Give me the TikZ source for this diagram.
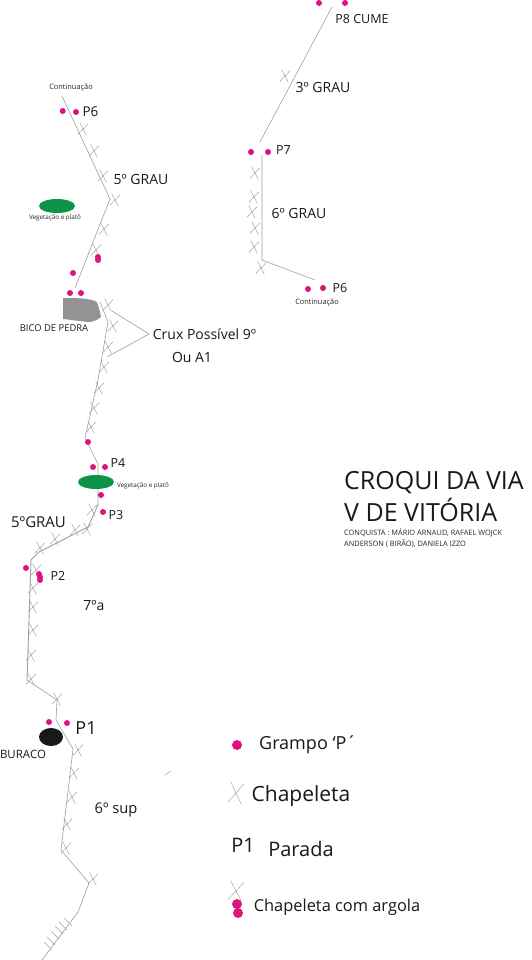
\documentclass[tikz,border=0pt]{standalone}
\usepackage{fontspec}
\setmainfont{Open Sans}
\usetikzlibrary{shapes.misc,shapes.geometric}
\definecolor{grampocolor}{HTML}{DC1480}
\definecolor{platocolor}{HTML}{0B9348}
\begin{document}
\begin{tikzpicture}[
        x=1pt,
        y=-1pt,
        route/.style={draw=gray!75, line width=0.6pt},
        grampo/.style={
            circle,
            fill=grampocolor,
            inner sep=0pt,
            minimum size=6pt
        },
        chapeleta/.style={
            cross out,
            draw=gray!75,
            line width=0.45pt,
            inner sep=0pt,
            minimum width=8pt,
            minimum height=11.5pt,
            rotate=-8
        },
        tick/.style={draw=gray!75, line width=0.5pt},
        plato/.style={ellipse, fill=platocolor, inner sep=0pt, minimum width=36pt, minimum height=14pt},
        label/.style={text=black!90, inner sep=0pt, font=\fontsize{14}{14}\selectfont},
        parada/.style={label, font=\fontsize{12.5}{12.5}\selectfont},
        small/.style={text=black!85, inner sep=0pt, font=\fontsize{6.3}{6.3}\selectfont},
        cont/.style={small, font=\fontsize{7.4}{7.4}\selectfont}
    ]
    \useasboundingbox (0,0) rectangle (531,960);
    \fill[white] (0,0) rectangle (531,960);

    % upper left pitch
    \draw[route] (62,96) -- (110,199) -- (75,288);
    \path[fill=gray!85] (63,298) .. controls (75,298) and (90,298) .. (97,302)
        .. controls (99,308) and (100,312) .. (101,317)
        .. controls (96,321) and (92,322) .. (88,322) -- (63,319) -- cycle;
    \draw[route] (100,302) -- (108,322) -- (98,380) -- (85,438) -- (98,464) -- (98,505);
    \draw[route, line width=0.9pt] (98,505) -- (88,527) -- (39,552) -- (31,560) -- (27,680);
    \draw[route] (27,680) -- (57,700) -- (56,720)
        -- (73,749) -- (61,850) -- (89,883) -- (78,912) -- (42,960);

    % right pitch
    \draw[route] (332,7) -- (260,142);
    \draw[route] (262,155) -- (262,260) -- (315,280);

    % crux bracket
    \node[label] (crux) at (204.5,334) {Crux Possível 9º};
    \node[label] (ou) at (192,357) {Ou A1};
    \coordinate (cruxa) at (112,311);
    \coordinate (cruxtip) at (149,334);
    \coordinate (cruxb) at (107,357);
    \draw[route] (cruxa) -- (cruxtip) -- (cruxb);

    % ticks on the last stretch
    \draw[tick] (68,922) +(-4,-4) -- +(4,4);
    \draw[tick] (63,926) +(-4,-4) -- +(4,4);
    \draw[tick] (59,930) +(-4,-4) -- +(4,4);
    \draw[tick] (55,935) +(-4,-4) -- +(4,4);
    \draw[tick] (51,941) +(-4,-4) -- +(4,4);
    \draw[tick] (48,946) +(-4,-4) -- +(4,4);
    \draw[tick] (165,775) -- (171,771);

    % chapeletas
    \node[chapeleta] (c1) at (83,129) {};
    \node[chapeleta] (c2) at (94,151) {};
    \node[chapeleta] (c3) at (103,176) {};
    \node[chapeleta] (c4) at (115,200) {};
    \node[chapeleta] (c5) at (104,229) {};
    \node[chapeleta] (c6) at (96,250) {};
    \node[chapeleta] (c7) at (108,305) {};
    \node[chapeleta] (c8) at (113,326) {};
    \node[chapeleta] (c9) at (108,347) {};
    \node[chapeleta] (c10) at (104,367) {};
    \node[chapeleta] (c11) at (99,388) {};
    \node[chapeleta] (c12) at (94,408) {};
    \node[chapeleta] (c13) at (91,427) {};
    \node[chapeleta] (c14) at (92,510) {};
    \node[chapeleta] (c15) at (87,529) {};
    \node[chapeleta] (c16) at (75,530) {};
    \node[chapeleta] (c17) at (55,539) {};
    \node[chapeleta] (c18) at (40,548) {};
    \node[chapeleta] (c19) at (36,570) {};
    \node[chapeleta] (c20) at (33,588) {};
    \node[chapeleta] (c21) at (33,607) {};
    \node[chapeleta] (c22) at (33,630) {};
    \node[chapeleta] (c23) at (31,655) {};
    \node[chapeleta] (c24) at (31,679) {};
    \node[chapeleta] (c25) at (57,699) {};
    \node[chapeleta] (c26) at (78,750) {};
    \node[chapeleta] (c27) at (74,773) {};
    \node[chapeleta] (c28) at (72,797) {};
    \node[chapeleta] (c29) at (67,824) {};
    \node[chapeleta] (c30) at (66,848) {};
    \node[chapeleta] (c31) at (93,879) {};
    \node[chapeleta] (c32) at (285,76) {};
    \node[chapeleta] (c33) at (255,173) {};
    \node[chapeleta] (c34) at (254,197) {};
    \node[chapeleta] (c35) at (252,212) {};
    \node[chapeleta] (c36) at (255,228) {};
    \node[chapeleta] (c37) at (254,247) {};
    \node[chapeleta] (c38) at (261,268) {};

    % grampos
    \node[grampo] (g1) at (62.7,111) {};
    \node[grampo] (g2) at (76,112) {};
    \node[grampo] (g3) at (98,257) {};
    \node[grampo] (g4) at (98,260) {};
    \node[grampo] (g5) at (73,273) {};
    \node[grampo] (g6) at (70,293) {};
    \node[grampo] (g7) at (81,293) {};
    \node[grampo] (g8) at (88,442) {};
    \node[grampo] (g9) at (93,467) {};
    \node[grampo] (g10) at (105,467) {};
    \node[grampo] (g11) at (101,495) {};
    \node[grampo] (g12) at (103,512) {};
    \node[grampo] (g13) at (26,568) {};
    \node[grampo] (g14) at (39,574) {};
    \node[grampo] (g15) at (40,577) {};
    \node[grampo] (g16) at (40,580) {};
    \node[grampo] (g17) at (49,722) {};
    \node[grampo] (g18) at (67,723) {};
    \node[grampo] (g19) at (319,3) {};
    \node[grampo] (g20) at (345,3) {};
    \node[grampo] (g21) at (251,152) {};
    \node[grampo] (g22) at (268,152) {};
    \node[grampo] (g23) at (308,289) {};
    \node[grampo] (g24) at (323,288) {};

    % platos and buraco
    \node[plato] (plato1) at (57,206) {};
    \node[plato] (plato2) at (96,482) {};
    \node[ellipse, fill=black!90, inner sep=0pt, minimum width=24pt, minimum height=18pt] (buraco) at (51,737) {};

    % labels along the route
    \node[cont] (cont1) at (71,88) {Continuação};
    \node[parada, font=\fontsize{13.5}{13.5}\selectfont] (p6a) at (90.5,112) {P6};
    \node[label] (grau5a) at (141,179) {5º GRAU};
    \node[small] (veg1) at (55,218) {Vegetação e platô};
    \node[label, font=\fontsize{9.4}{9.4}\selectfont] (bico) at (54,328) {BICO DE PEDRA};
    \node[parada] (p4) at (118,463) {P4};
    \node[small] (veg2) at (143,486) {Vegetação e platô};
    \node[parada] (p3) at (116,515) {P3};
    \node[label, font=\fontsize{15}{15}\selectfont] (grau5b) at (38.5,522) {5ºGRAU};
    \node[parada] (p2) at (58,576) {P2};
    \node[label] (grau7) at (94,606) {7ºa};
    \node[label, font=\fontsize{18}{18}\selectfont] (p1) at (86,728) {P1};
    \node[label, font=\fontsize{11.5}{11.5}\selectfont] (buracolabel) at (23,754) {BURACO};
    \node[label, font=\fontsize{14.7}{14.7}\selectfont] (sup6) at (116,810) {6º sup};
    \node[parada] (p8) at (362,19) {P8 CUME};
    \node[label] (grau3) at (323,88) {3º GRAU};
    \node[parada] (p7) at (283.5,150) {P7};
    \node[label] (grau6) at (299,213) {6º GRAU};
    \node[parada] (p6b) at (340,288) {P6};
    \node[cont] (cont2) at (317,303) {Continuação};

    % title
    \node[label, anchor=west, font=\fontsize{25}{25}\selectfont] (title1) at (344,482.5) {CROQUI DA VIA};
    \node[label, anchor=west, font=\fontsize{25}{25}\selectfont] (title2) at (344,510) {V DE VITÓRIA};
    \node[cont, anchor=west] (auth1) at (344,533) {CONQUISTA : MÁRIO ARNAUD, RAFAEL WOJCK};
    \node[cont, anchor=west] (auth2) at (344,544) {ANDERSON ( BIRÃO), DANIELA IZZO};

    % legend
    \node[grampo, minimum size=10pt] (leg1) at (237,745) {};
    \node[label, font=\fontsize{18}{18}\selectfont] (leg1t) at (308,745) {Grampo ‘P´};
    \node[chapeleta, minimum width=13pt, minimum height=20pt] (leg2) at (236,793) {};
    \node[label, font=\fontsize{21}{21}\selectfont] (leg2t) at (301,796) {Chapeleta};
    \node[label, font=\fontsize{20}{20}\selectfont] (leg3) at (243,845) {P1};
    \node[label, font=\fontsize{20}{20}\selectfont] (leg3t) at (301,849) {Parada};
    \node[chapeleta, minimum width=13pt, minimum height=19pt] (leg4) at (236,891) {};
    \node[grampo, minimum size=10pt] (leg4a) at (237,904) {};
    \node[grampo, minimum size=10pt] (leg4b) at (238,913) {};
    \node[label, font=\fontsize{16.4}{16.4}\selectfont] (leg4t) at (337,907) {Chapeleta com argola};
\end{tikzpicture}
\end{document}
